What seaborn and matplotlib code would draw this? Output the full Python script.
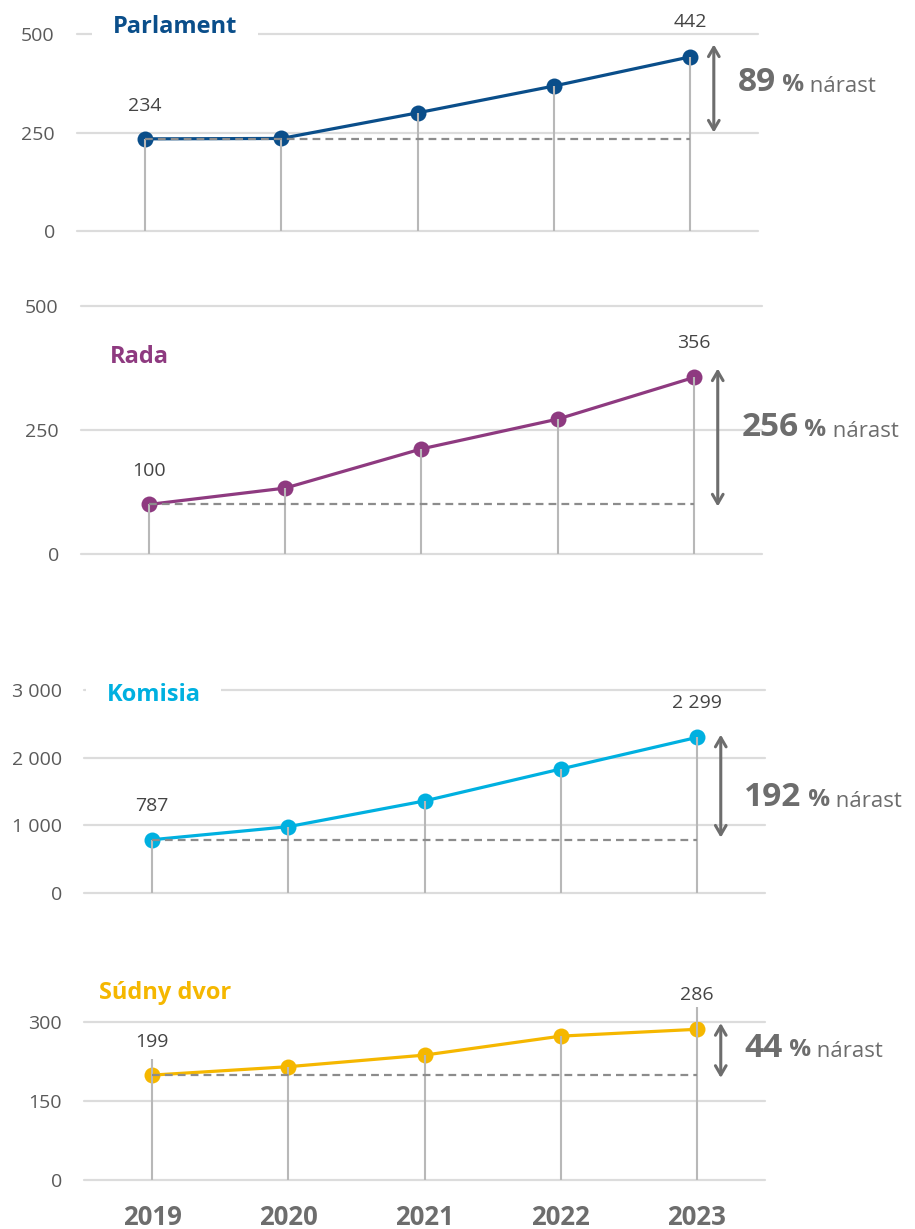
import matplotlib
matplotlib.use('Agg')
import matplotlib.pyplot as plt
from matplotlib.transforms import offset_copy
import seaborn as sns

# ---------------- data ----------------
years = [2019, 2020, 2021, 2022, 2023]
year_labels = ['2019', '2020', '2021', '2022', '2023']

parlament = [234, 235, 300, 368, 442]
rada = [100, 133, 212, 272, 356]
komisia = [787, 980, 1360, 1832, 2299]
sudny_dvor = [199, 215, 237, 273, 286]
sudny_dvor_stem_top = [230, 215, 237, 273, 328]

names = ['Parlament', 'Rada', 'Komisia', 'Súdny dvor']
growth_pct = ['89', '256', '192', '44']
first_labels = ['234', '100', '787', '199']
last_labels = ['442', '356', '2 299', '286']

yticks_parlament = [0, 250, 500]
yticks_rada = [0, 250, 500]
yticks_komisia = [0, 1000, 2000, 3000]
yticks_sudny = [0, 150, 300]
ytick_labels_parlament = ['0', '250', '500']
ytick_labels_rada = ['0', '250', '500']
ytick_labels_komisia = ['0', '1 000', '2 000', '3 000']
ytick_labels_sudny = ['0', '150', '300']

# ---------------- style ----------------
sns.set_theme(style='white')
plt.rcParams['font.family'] = ['Open Sans', 'DejaVu Sans']

colors = ['#0a4e8a', '#8e3a80', '#00b0e0', '#f5b700']
GRID = '#dcdcdc'
STEM = '#b8b8b8'
DASH = '#8c8c8c'
GRAY = '#6d6d6d'
TICK = '#5a5a5a'
VAL = '#444444'

fig = plt.figure(figsize=(9.15, 12.29), dpi=100)

positions = [
    (0.0842, 0.8120, 0.7443, 0.1603),
    (0.0885, 0.5492, 0.7443, 0.2018),
    (0.0918, 0.2734, 0.7443, 0.1652),
    (0.0918, 0.0399, 0.7443, 0.1286),
]
series = [parlament, rada, komisia, sudny_dvor]
stem_tops = [parlament, rada, komisia, sudny_dvor_stem_top]
yticks_all = [yticks_parlament, yticks_rada, yticks_komisia, yticks_sudny]
ytl_all = [ytick_labels_parlament, ytick_labels_rada, ytick_labels_komisia, ytick_labels_sudny]
title_pos = [(0.052, 1.035), (0.043, 0.794), (0.033, 0.975), (0.022, 1.184)]
title_box = [True, False, True, False]
# styling offsets (points) for the growth arrows and their labels
arrow_dy_bottom = [4.5, -1.5, 1.5, -2.0]
arrow_dy_top = [9.0, 6.5, 2.0, 4.5]
label_dy = [11.0, 9.5, -6.5, 3.0]

ARROW_X = 2023.175

for i in range(4):
    ax = fig.add_axes(positions[i])
    vals = series[i]
    c = colors[i]
    yt = yticks_all[i]
    ax.set_xlim(2018.5, 2023.5)
    ax.set_ylim(yt[0], yt[-1])

    for t in yt:
        ax.axhline(t, color=GRID, lw=1.6, zorder=0, clip_on=False)

    sns.lineplot(x=years, y=vals, ax=ax, color=c, lw=2.3, marker='o',
                 markersize=11.5, markeredgewidth=0, zorder=3)
    ax.vlines(years, 0, stem_tops[i], color=STEM, lw=1.5, zorder=4, clip_on=False)
    ax.hlines(vals[0], years[0], years[-1], color=DASH, lw=1.6,
              linestyles=(0, (3.5, 2.3)), zorder=5)

    # value labels
    ax.annotate(first_labels[i], (years[0], vals[0]), xytext=(0, 24),
                textcoords='offset points', ha='center', va='center',
                fontsize=14, color=VAL, annotation_clip=False)
    ax.annotate(last_labels[i], (years[-1], vals[-1]), xytext=(0, 25),
                textcoords='offset points', ha='center', va='center',
                fontsize=14, color=VAL, annotation_clip=False)

    # growth arrow
    top_tr = offset_copy(ax.transData, fig=fig, y=arrow_dy_top[i], units='points')
    bot_tr = offset_copy(ax.transData, fig=fig, y=arrow_dy_bottom[i], units='points')
    ax.annotate('', xy=(ARROW_X, vals[-1]), xycoords=top_tr,
                xytext=(ARROW_X, vals[0]), textcoords=bot_tr,
                arrowprops=dict(arrowstyle='<->,head_length=0.55,head_width=0.32',
                                color=GRAY, lw=2.2, shrinkA=0, shrinkB=0),
                annotation_clip=False)
    mid = (vals[0] + vals[-1]) / 2
    t1 = ax.annotate(growth_pct[i], xy=(ARROW_X, mid), xytext=(17, label_dy[i]),
                     textcoords='offset points', ha='left', va='center',
                     fontsize=24, fontweight='bold', color=GRAY,
                     annotation_clip=False)
    t2 = ax.annotate(' %', xy=(1, 0), xycoords=t1, xytext=(0, 1.5),
                     textcoords='offset points', ha='left', va='bottom',
                     fontsize=17.5, fontweight='bold', color=GRAY)
    ax.annotate(' nárast', xy=(1, 0), xycoords=t2, ha='left', va='bottom',
                fontsize=16, color=GRAY)

    # title
    kw = {}
    if title_box[i]:
        kw['bbox'] = dict(facecolor='white', edgecolor='none', pad=15)
    ax.text(title_pos[i][0], title_pos[i][1], names[i], transform=ax.transAxes,
            fontsize=17, fontweight='bold', color=c, ha='left', va='center',
            zorder=6, **kw)

    ax.set_yticks(yt)
    ax.set_yticklabels(ytl_all[i], fontsize=14, color=TICK)
    ax.tick_params(axis='y', length=0, pad=16)
    if i == 3:
        ax.set_xticks(years)
        ax.set_xticklabels(year_labels, fontsize=18.5, fontweight='bold', color=GRAY)
        ax.tick_params(axis='x', length=0, pad=17)
    else:
        ax.set_xticks([])
    ax.set_xlabel('')
    ax.set_ylabel('')
    for s in ax.spines.values():
        s.set_visible(False)

fig.savefig('out.png', dpi=100, facecolor='white')
